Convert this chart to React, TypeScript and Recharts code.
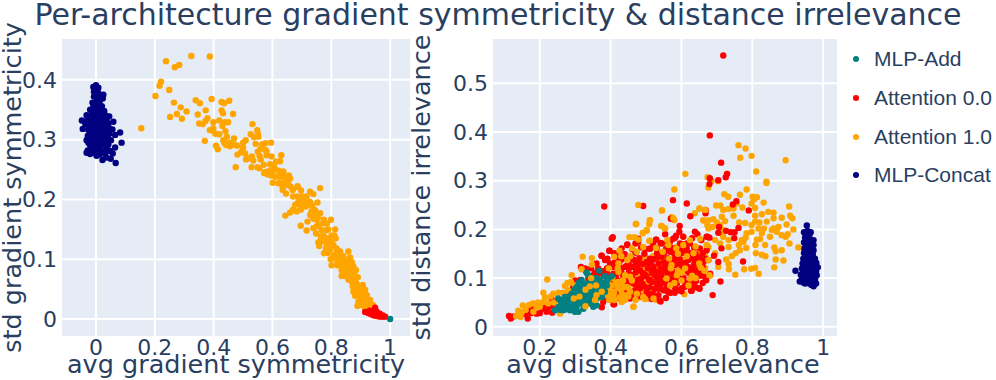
import { ScatterChart, Scatter, XAxis, YAxis, CartesianGrid } from 'recharts';

type Pair = [number, number];

const TEXT = '#2a3f5f';
const FONT = '"DejaVu Sans", Verdana, sans-serif';

const TEAL = '#008080';
const RED = '#ff0000';
const ORANGE = '#ffa500';
const NAVY = '#000080';

const legendItems = [
  { name: 'MLP-Add', color: TEAL },
  { name: 'Attention 0.0', color: RED },
  { name: 'Attention 1.0', color: ORANGE },
  { name: 'MLP-Concat', color: NAVY },
];

const symXTicks = [0, 0.2, 0.4, 0.6, 0.8, 1];
const symYTicks = [0, 0.1, 0.2, 0.3, 0.4];
const irrXTicks = [0.2, 0.4, 0.6, 0.8, 1];
const irrYTicks = [0, 0.1, 0.2, 0.3, 0.4, 0.5];

// left panel: avg / std gradient symmetricity
const symConcat: Pair[] = [
  [0, .391], [-.009, .388], [.008, .387], [-.007, .38], [.008, .378], [.025, .375], [-.007, .372], [.008, .372],
  [.023, .369], [-.009, .358], [.002, .365], [.014, .356], [-.02, .35], [-.003, .35], [.014, .348], [.028, .348],
  [-.032, .341], [-.015, .341], [.002, .341], [.019, .341], [.045, .339], [-.048, .332], [-.029, .333], [-.011, .333],
  [.008, .333], [.025, .332], [.059, .33], [-.045, .318], [-.026, .324], [-.009, .324], [.008, .323], [.025, .323],
  [.042, .327], [-.026, .316], [-.009, .316], [.008, .316], [.025, .315], [.045, .319], [.056, .317], [.082, .312],
  [.065, .308], [.087, .295], [-.02, .308], [-.003, .308], [.014, .307], [.031, .308], [.045, .31], [-.032, .299],
  [-.015, .299], [.002, .299], [.019, .298], [.036, .299], [.051, .299], [-.02, .291], [-.003, .291], [.016, .29],
  [.034, .291], [-.018, .285], [.065, .287], [-.032, .278], [-.02, .276], [.002, .273], [.025, .28], [.048, .281],
  [.031, .276], [.057, .277], [.022, .266], [.05, .268], [.067, .261], [.036, .27],
  [-.004, .383], [.004, .368], [.014, .366], [-.012, .362], [-.001, .358], [.006, .352], [.02, .356], [-.013, .346],
  [-.004, .345], [.012, .344], [.024, .344], [.034, .34], [-.022, .336], [-.003, .336], [.016, .336], [.036, .334],
  [-.018, .328], [0, .328], [.017, .329], [.033, .328], [-.036, .326], [-.018, .32], [0, .32], [.017, .32],
  [.034, .318], [-.018, .312], [.001, .312], [.022, .311], [.04, .312], [-.028, .306], [-.011, .303], [.006, .303],
  [.024, .303], [.04, .304], [-.026, .295], [-.008, .295], [.008, .295], [.026, .295], [.042, .292], [-.012, .284],
  [.005, .284], [.018, .283], [.038, .285], [-.008, .278], [.012, .275], [-.028, .282],
];

const symAttn10: Pair[] = [
  [.154, .319], [.238, .431], [.268, .421], [.283, .425], [.324, .44], [.387, .439], [.221, .397], [.216, .39],
  [.249, .383], [.202, .373], [.265, .362], [.288, .354], [.308, .347], [.275, .343], [.252, .338], [.292, .335],
  [.339, .366], [.353, .361], [.393, .368], [.427, .363], [.436, .361], [.453, .365], [.373, .349], [.346, .342],
  [.427, .349], [.432, .344], [.466, .343], [.379, .336], [.372, .331], [.351, .327], [.363, .326], [.399, .329],
  [.419, .332], [.438, .329], [.449, .329], [.399, .319], [.387, .316], [.397, .315], [.43, .323], [.44, .314],
  [.406, .31], [.419, .309], [.37, .298], [.433, .299], [.469, .302], [.436, .295], [.443, .291], [.456, .289],
  [.469, .292], [.408, .29], [.414, .284], [.532, .326], [.526, .309], [.548, .316], [.55, .311], [.537, .304],
  [.552, .305], [.509, .299], [.543, .293], [.565, .292], [.576, .294], [.595, .295], [.5, .287], [.481, .275],
  [.493, .279], [.507, .277], [.51, .267], [.519, .269], [.53, .272], [.535, .265], [.556, .273], [.576, .283],
  [.58, .274], [.56, .267], [.597, .272], [.63, .274], [.612, .263], [.626, .264], [.592, .259], [.475, .254],
  [.529, .254], [.549, .254], [.556, .252], [.605, .254], [.62, .248], [.637, .247], [.572, .244], [.583, .242],
  [.597, .245], [.597, .24], [.635, .239], [.656, .24], [.654, .232], [.601, .228], [.62, .227], [.652, .224],
  [.635, .22], [.669, .217], [.685, .221], [.586, .244], [.575, .246], [.594, .241], [.626, .246], [.637, .241],
  [.654, .238], [.651, .226], [.626, .227], [.635, .216], [.646, .21], [.685, .222], [.669, .216], [.697, .215],
  [.762, .219], [.728, .213], [.739, .209], [.716, .205], [.699, .202], [.688, .196], [.677, .191], [.694, .191],
  [.709, .196], [.753, .195], [.728, .196], [.669, .183], [.682, .18], [.696, .183], [.66, .178], [.644, .173],
  [.733, .18], [.728, .174], [.745, .182], [.762, .177], [.739, .168], [.719, .163], [.75, .166], [.775, .166],
  [.799, .166], [.756, .157], [.785, .16], [.696, .156], [.739, .152], [.716, .148], [.748, .143], [.767, .149],
  [.785, .149], [.813, .15], [.801, .14], [.773, .14], [.756, .128], [.764, .132], [.759, .122], [.785, .125],
  [.801, .129], [.782, .118], [.796, .117], [.807, .124], [.818, .118], [.83, .113], [.858, .113], [.824, .107],
  [.841, .105], [.864, .103], [.798, .1], [.83, .099], [.853, .098], [.801, .09], [.83, .09], [.843, .088],
  [.875, .088], [.835, .082], [.858, .081], [.884, .082], [.847, .072], [.869, .072], [.858, .066], [.881, .065],
  [.873, .055], [.886, .059], [.907, .057], [.875, .046], [.896, .049], [.915, .049], [.881, .039], [.903, .04],
  [.921, .04], [.892, .029], [.909, .032], [.932, .032], [.889, .022], [.907, .023], [.926, .023], [.943, .023],
  [.915, .018], [.81, .108], [.82, .098], [.84, .095], [.85, .085], [.86, .075], [.87, .062], [.89, .045],
  [.9, .035], [.92, .03], [.79, .135], [.77, .13], [.815, .135],
  [.61, .238], [.645, .232], [.66, .222], [.67, .205], [.684, .205], [.7, .205], [.71, .188], [.72, .19],
  [.735, .19], [.74, .175], [.755, .17], [.75, .155], [.77, .16], [.79, .15], [.765, .138], [.78, .135],
  [.795, .13], [.81, .14], [.775, .11], [.79, .11], [.81, .105], [.82, .11], [.835, .105], [.84, .097],
  [.848, .09], [.82, .09], [.835, .072], [.85, .075], [.865, .082], [.86, .09], [.87, .095], [.878, .078],
  [.875, .065], [.89, .07], [.88, .053], [.892, .04], [.905, .04], [.895, .055], [.9, .025], [.915, .03],
  [.925, .03], [.935, .024], [.91, .04], [.5, .295], [.56, .285], [.58, .28], [.55, .28], [.57, .258],
  [.59, .248], [.61, .25], [.625, .238], [.64, .228], [.66, .235], [.445, .305], [.455, .295], [.48, .29],
];

const symAttn00: Pair[] = [
  [.915, .012], [.925, .01], [.935, .008], [.945, .006], [.955, .005], [.965, .004], [.975, .004], [.983, .004],
  [.93, .014], [.94, .012], [.95, .015], [.949, .019], [.955, .012], [.965, .009], [.975, .006], [.96, .006],
];

const symAdd: Pair[] = [[1, 0]];

// right panel: avg / std distance irrelevance
const irrAttn10Far: Pair[] = [
  [.761, .373], [.781, .366], [.766, .347], [.798, .351], [.894, .342], [.811, .319], [.611, .314], [.728, .314],
  [.674, .307], [.685, .3], [.703, .299], [.84, .298], [.84, .295], [.676, .286], [.58, .282], [.784, .282],
  [.721, .272], [.732, .267], [.765, .271], [.801, .267], [.813, .266], [.805, .262], [.832, .255], [.698, .249],
  [.709, .249], [.904, .247], [.772, .245], [.756, .253], [.798, .253], [.808, .244], [.718, .24], [.733, .242],
  [.747, .243], [.651, .243], [.638, .233], [.545, .239], [.511, .219], [.58, .219], [.572, .225], [.544, .207],
  [.554, .202], [.502, .197], [.491, .193], [.747, .228], [.714, .226], [.69, .221], [.676, .219], [.662, .218],
  [.7, .214], [.723, .217], [.709, .209], [.676, .202], [.688, .205], [.718, .199], [.763, .214], [.78, .213],
  [.808, .228], [.827, .231], [.845, .236], [.86, .234], [.86, .223], [.883, .224], [.907, .228], [.913, .223],
  [.808, .216], [.798, .209], [.82, .214], [.841, .216], [.897, .21], [.916, .2], [.86, .202], [.874, .205],
  [.855, .199], [.833, .202], [.817, .202], [.784, .192], [.798, .195], [.827, .192], [.883, .188], [.9, .19],
  [.85, .185], [.869, .195], [.894, .185], [.781, .183], [.775, .174], [.77, .178], [.762, .168], [.822, .18],
  [.813, .179], [.905, .171], [.809, .168], [.836, .168], [.93, .163], [.862, .163], [.866, .155], [.883, .157],
  [.783, .162], [.81, .151], [.827, .148], [.837, .145], [.742, .145], [.753, .151], [.765, .157], [.866, .138],
  [.888, .136], [.726, .138], [.733, .129], [.734, .118], [.862, .122], [.808, .121], [.797, .119], [.777, .118],
  [.752, .107], [.818, .109], [.681, .105], [.669, .095], [.704, .123], [.657, .12], [.667, .121], [.629, .099],
  [.608, .067], [.624, .085], [.676, .164], [.695, .178], [.709, .171], [.733, .164], [.695, .151], [.667, .147],
  [.652, .151], [.718, .185], [.733, .178], [.714, .192], [.605, .185], [.568, .178], [.558, .171], [.587, .164],
  [.544, .144], [.554, .123], [.601, .137], [.596, .102], [.577, .151], [.507, .058], [.521, .058], [.497, .061],
  [.528, .161], [.509, .176], [.605, .113], [.638, .123],
  [.47, .085], [.475, .1], [.49, .07], [.5, .09], [.51, .07], [.53, .09], [.55, .1], [.5, .115],
  [.52, .145], [.54, .135], [.48, .125], [.51, .108], [.53, .12], [.55, .08], [.48, .06], [.53, .055],
  [.497, .123], [.516, .099], [.544, .113], [.497, .147], [.492, .137], [.53, .14], [.544, .127], [.483, .113],
  [.521, .12], [.469, .109], [.483, .089], [.521, .078],
];

const irrAttn00: Pair[] = [
  [.382, .247], [.492, .248], [.576, .26], [.615, .253], [.57, .222], [.625, .227], [.406, .184], [.403, .181],
  [.595, .207], [.478, .181], [.529, .179], [.544, .171], [.585, .187], [.594, .195], [.638, .195], [.645, .19],
  [.673, .185], [.577, .181], [.624, .171], [.486, .163], [.512, .161], [.397, .156], [.374, .146], [.447, .169],
  [.464, .138], [.434, .139], [.521, .139], [.568, .154], [.601, .157], [.652, .161], [.671, .157], [.624, .151],
  [.643, .137], [.667, .14], [.585, .14], [.544, .144], [.502, .133], [.478, .13], [.445, .125], [.398, .13],
  [.379, .114], [.356, .111], [.412, .127], [.462, .123], [.483, .116], [.521, .123], [.554, .125], [.594, .13],
  [.619, .123], [.648, .116], [.636, .106], [.61, .116], [.577, .113], [.538, .109], [.497, .107], [.459, .106],
  [.431, .111], [.408, .109], [.394, .096], [.422, .094], [.45, .091], [.478, .096], [.509, .096], [.54, .094],
  [.568, .098], [.596, .098], [.624, .092], [.652, .105], [.67, .096], [.65, .079], [.61, .084], [.591, .075],
  [.568, .07], [.541, .052], [.549, .075], [.525, .078], [.497, .082], [.469, .075], [.436, .072], [.412, .061],
  [.443, .061], [.379, .051], [.408, .046], [.629, .074], [.554, .116], [.525, .106], [.483, .079], [.464, .092],
  [.507, .065], [.535, .065], [.516, .111], [.459, .065], [.587, .089], [.582, .127], [.568, .175], [.605, .185],
  [.62, .137], [.361, .096], [.351, .106], [.398, .072], [.54, .085], [.559, .133], [.535, .13],
  [.718, .557], [.68, .393], [.712, .337], [.729, .314], [.725, .307], [.68, .305], [.679, .293], [.704, .301],
  [.755, .258], [.745, .251], [.79, .239], [.668, .24], [.668, .233], [.706, .205], [.726, .197], [.704, .193],
  [.739, .194], [.761, .203], [.75, .194], [.749, .182], [.656, .178], [.679, .183], [.671, .185], [.615, .171],
  [.713, .161], [.692, .146], [.704, .133], [.676, .137], [.662, .133], [.774, .134], [.71, .093], [.688, .065],
  [.651, .078], [.627, .074], [.61, .082], [.641, .094], [.652, .116], [.638, .137], [.634, .116], [.601, .151],
  [.605, .13], [.577, .137], [.577, .109], [.539, .054], [.568, .07], [.539, .082], [.511, .096], [.521, .116],
  [.544, .106], [.492, .061], [.507, .131], [.528, .179], [.541, .172], [.511, .16], [.554, .19], [.582, .183],
  [.596, .171], [.568, .164],
  [.113, .022], [.118, .017], [.158, .026], [.166, .017], [.172, .037], [.186, .041], [.191, .027], [.208, .037],
  [.234, .055], [.238, .042], [.235, .029], [.219, .031], [.262, .055], [.276, .062], [.293, .079], [.316, .123],
  [.328, .12], [.314, .096], [.337, .099], [.38, .113], [.384, .137], [.375, .146], [.396, .156], [.447, .168],
  [.478, .175], [.426, .151], [.441, .123], [.408, .123], [.46, .123], [.425, .133], [.342, .089], [.417, .096],
  [.436, .103], [.464, .089], [.38, .055], [.41, .046], [.427, .068], [.455, .058], [.295, .048], [.323, .075],
  [.426, .058], [.481, .063], [.516, .057], [.53, .061], [.556, .059], [.39, .068], [.421, .071], [.452, .073],
  [.476, .069], [.502, .072], [.519, .068], [.561, .072], [.581, .07], [.6, .073], [.385, .08], [.406, .083],
  [.431, .079], [.446, .082], [.475, .084], [.51, .081], [.536, .078], [.56, .083], [.581, .081], [.601, .079],
  [.626, .083], [.641, .081], [.401, .09], [.411, .088], [.441, .092], [.471, .09], [.49, .088], [.516, .092],
  [.531, .089], [.555, .09], [.575, .092], [.611, .091], [.635, .088], [.66, .09], [.38, .1], [.415, .102],
  [.441, .099], [.461, .101], [.486, .099], [.501, .103], [.531, .1], [.56, .102], [.585, .099], [.606, .101],
  [.631, .102], [.665, .103], [.37, .11], [.391, .109], [.42, .112], [.451, .11], [.471, .112], [.491, .11],
  [.531, .112], [.561, .11], [.59, .109], [.621, .111], [.66, .112], [.681, .109], [.39, .12], [.431, .121],
  [.451, .119], [.475, .121], [.505, .12], [.541, .119], [.571, .121], [.6, .12], [.631, .119], [.66, .122],
  [.41, .131], [.451, .13], [.471, .132], [.491, .129], [.515, .131], [.55, .132], [.575, .13], [.611, .131],
  [.636, .128], [.655, .131], [.391, .14], [.42, .142], [.456, .139], [.481, .141], [.511, .14], [.531, .142],
  [.561, .141], [.595, .139], [.63, .141], [.651, .142], [.41, .151], [.44, .149], [.47, .152], [.495, .15],
  [.531, .151], [.551, .152], [.581, .149], [.611, .151], [.64, .149], [.66, .151], [.431, .161], [.461, .159],
  [.5, .16], [.53, .162], [.556, .16], [.58, .161], [.615, .16], [.636, .162], [.47, .171], [.52, .17],
  [.56, .172], [.6, .17], [.63, .182],
  [.125, .021], [.145, .028], [.175, .028], [.2, .028], [.21, .045], [.225, .04], [.25, .035], [.255, .05],
  [.28, .07], [.3, .095], [.31, .085], [.33, .115], [.345, .12], [.365, .12], [.36, .13], [.39, .12],
  [.345, .075], [.35, .045], [.375, .04], [.395, .06],
];

const irrAttn10Mid: Pair[] = [
  [.478, .25], [.511, .219], [.509, .211], [.471, .211], [.502, .199], [.491, .192], [.453, .184], [.467, .184],
  [.478, .179], [.221, .097], [.21, .07], [.29, .106], [.321, .144], [.347, .141], [.347, .128], [.318, .118],
  [.41, .144], [.425, .156], [.46, .161], [.511, .177], [.492, .164], [.278, .09], [.271, .084], [.288, .092],
  [.238, .068], [.252, .07], [.21, .051], [.224, .048], [.2, .041], [.152, .044], [.139, .033], [.149, .03],
  [.133, .022], [.146, .02], [.182, .031], [.191, .041], [.257, .027], [.33, .082], [.356, .083], [.38, .09],
  [.403, .085], [.384, .065], [.408, .061], [.396, .055], [.465, .041], [.431, .051], [.445, .082], [.422, .113],
  [.455, .103], [.474, .068], [.441, .065], [.492, .061], [.521, .058],
  [.545, .239], [.472, .211], [.543, .207], [.553, .202], [.577, .223], [.651, .243], [.667, .24], [.662, .219],
  [.673, .209], [.474, .154], [.528, .162], [.547, .154], [.56, .178], [.563, .168], [.605, .168],
  [.585, .161], [.652, .181], [.634, .151], [.671, .168], [.676, .137], [.655, .121], [.679, .106], [.624, .099],
  [.601, .111], [.572, .127], [.447, .137], [.422, .13], [.389, .099],
  [.375, .075], [.398, .065], [.422, .092], [.441, .106],
  [.568, .085], [.587, .106], [.464, .041], [.497, .057], [.455, .072], [.431, .065],
  [.436, .082], [.558, .099], [.624, .178], [.405, .1], [.43, .09], [.47, .055],
  [.385, .08], [.395, .088], [.4, .075], [.41, .07], [.415, .09], [.42, .08], [.43, .075], [.435, .095],
  [.44, .055], [.45, .062], [.45, .08], [.46, .095],
  [.57, .12], [.59, .115], [.61, .12], [.63, .105], [.65, .13],
  [.665, .115], [.565, .14], [.59, .15], [.615, .145], [.64, .165],
  [.42, .12], [.395, .12], [.43, .145], [.455, .145],
  [.58, .09], [.6, .095], [.62, .085], [.64, .1], [.41, .055], [.425, .06], [.385, .1], [.37, .06],
  [.355, .065], [.345, .055],
  [.16, .035], [.17, .045], [.18, .048], [.195, .05], [.215, .06], [.23, .062], [.24, .05], [.25, .045],
  [.27, .065], [.265, .07], [.28, .075], [.3, .085],
];

const irrAdd: Pair[] = [
  [.243, .034], [.252, .04], [.252, .058], [.265, .034], [.276, .051], [.271, .041], [.285, .034], [.299, .031],
  [.304, .042], [.29, .055], [.306, .083], [.314, .075], [.318, .055], [.323, .037], [.332, .111], [.337, .106],
  [.328, .065], [.337, .048], [.351, .041], [.361, .044], [.342, .068], [.351, .092], [.346, .079], [.368, .115],
  [.362, .099], [.37, .082], [.361, .058], [.38, .089], [.389, .085], [.403, .104], [.375, .061], [.384, .072],
  [.295, .065], [.304, .061], [.328, .089], [.281, .041], [.262, .044], [.271, .061], [.281, .061], [.312, .048],
  [.323, .061], [.332, .058], [.351, .058], [.342, .096], [.318, .096], [.342, .051], [.299, .072], [.37, .096],
  [.384, .104], [.285, .048], [.257, .035], [.295, .037], [.309, .031], [.315, .085], [.33, .075], [.355, .07],
  [.365, .075],
  [.26, .052], [.27, .05], [.28, .052], [.29, .043], [.3, .05], [.31, .055], [.32, .05], [.33, .048],
  [.335, .065], [.345, .06], [.31, .068], [.32, .07], [.335, .085], [.345, .086], [.355, .08],
  [.36, .09], [.375, .09], [.355, .1], [.39, .095],
  [.395, .1], [.38, .08], [.37, .068], [.35, .05], [.27, .035], [.28, .043], [.275, .056], [.3, .078],
  [.31, .09], [.3, .058], [.29, .068],
];

const irrAttn10Top: Pair[] = [
  [.296, .058], [.329, .076], [.341, .083], [.359, .085], [.329, .042], [.36, .065], [.312, .062], [.356, .055],
  [.345, .1], [.375, .072],
];

const irrConcat: Pair[] = [
  [.954, .208], [.946, .194], [.956, .197], [.965, .194], [.949, .183], [.961, .185], [.973, .178], [.946, .173],
  [.959, .171], [.973, .168], [.946, .161], [.959, .161], [.973, .157], [.946, .151], [.959, .151], [.971, .148],
  [.944, .14], [.956, .14], [.968, .14], [.977, .14], [.942, .13], [.954, .13], [.965, .13], [.977, .126],
  [.985, .122], [.94, .12], [.952, .12], [.963, .12], [.975, .116], [.937, .107], [.949, .109], [.961, .109],
  [.973, .107], [.982, .106], [.922, .115], [.934, .093], [.943, .1], [.954, .099], [.965, .098], [.977, .096],
  [.949, .089], [.961, .089], [.973, .083], [.98, .089],
  [.951, .19], [.961, .19], [.955, .178], [.966, .176], [.952, .166], [.965, .165], [.952, .156], [.966, .155],
  [.951, .146], [.964, .146], [.95, .135], [.961, .135], [.972, .134], [.947, .125], [.958, .125], [.969, .124],
  [.981, .131], [.945, .115], [.957, .114], [.969, .113], [.98, .114], [.943, .113], [.955, .104], [.967, .103],
  [.978, .102], [.948, .095], [.959, .094], [.97, .092], [.944, .091], [.967, .086], [.94, .098],
];

const toPoints = (pairs: Pair[]) => pairs.map(([x, y]) => ({ x, y }));

// plotly-style round marker
const Dot = (props: any) => <circle cx={props.cx} cy={props.cy} r={3.2} fill={props.fill} />;

interface PanelProps {
  left: number;
  width: number;
  axisWidth: number;
  titleOffset: number;
  xTitleShift: number;
  xDomain: [number, number];
  yDomain: [number, number];
  xTicks: number[];
  yTicks: number[];
  xTitle: string;
  yTitle: string;
  series: { data: Pair[]; color: string }[];
}

function Panel({ left, width, axisWidth, titleOffset, xTitleShift, xDomain, yDomain, xTicks, yTicks, xTitle, yTitle, series }: PanelProps) {
  return (
    <div style={{ position: 'absolute', left, top: 0 }}>
      <ScatterChart width={width} height={380} margin={{ top: 38, right: 0, bottom: 0, left: 0 }}>
        <CartesianGrid fill="#E5ECF6" stroke="#ffffff" strokeWidth={2} />
        <XAxis
          type="number"
          dataKey="x"
          domain={xDomain}
          ticks={xTicks}
          allowDataOverflow
          height={43}
          tickLine={false}
          axisLine={false}
          tickMargin={-4}
          tick={{ fill: TEXT, fontSize: 22, fontFamily: FONT }}
          label={{ value: xTitle, position: 'insideBottom', offset: 7, dx: xTitleShift, fill: TEXT, fontSize: 25.5, fontFamily: FONT }}
        />
        <YAxis
          type="number"
          dataKey="y"
          domain={yDomain}
          ticks={yTicks}
          allowDataOverflow
          width={axisWidth}
          tickLine={false}
          axisLine={false}
          tickMargin={-2}
          tick={{ fill: TEXT, fontSize: 22, fontFamily: FONT }}
          label={{ value: yTitle, angle: -90, position: 'insideLeft', offset: titleOffset, fill: TEXT, fontSize: 25.5, fontFamily: FONT, style: { textAnchor: 'middle' } }}
        />
        {series.map((s, i) => (
          <Scatter key={i} data={toPoints(s.data)} fill={s.color} shape={Dot} isAnimationActive={false} />
        ))}
      </ScatterChart>
    </div>
  );
}

export default function App() {
  return (
    <div style={{ position: 'absolute', left: 0, top: 0, width: 996, height: 380, background: '#fff', overflow: 'hidden' }}>
      <div style={{ position: 'absolute', left: 0, top: 0, width: 996, height: 29, lineHeight: '29px', textAlign: 'center', fontFamily: FONT, fontSize: 30, color: TEXT, whiteSpace: 'nowrap' }}>
        Per-architecture gradient symmetricity &amp; distance irrelevance
      </div>
      <Panel
        left={0}
        width={411}
        axisWidth={61}
        titleOffset={12}
        xTitleShift={0}
        xDomain={[-0.119, 1.071]}
        yDomain={[-0.03, 0.47]}
        xTicks={symXTicks}
        yTicks={symYTicks}
        xTitle="avg gradient symmetricity"
        yTitle="std gradient symmetricity"
        series={[
          { data: symConcat, color: NAVY },
          { data: symAttn10, color: ORANGE },
          { data: symAttn00, color: RED },
          { data: symAdd, color: TEAL },
        ]}
      />
      <Panel
        left={405}
        width={433}
        axisWidth={87}
        titleOffset={16}
        xTitleShift={-2}
        xDomain={[0.065, 1.042]}
        yDomain={[-0.021, 0.593]}
        xTicks={irrXTicks}
        yTicks={irrYTicks}
        xTitle="avg distance irrelevance"
        yTitle="std distance irrelevance"
        series={[
          { data: irrConcat, color: NAVY },
          { data: irrAttn10Far, color: ORANGE },
          { data: irrAttn00, color: RED },
          { data: irrAttn10Mid, color: ORANGE },
          { data: irrAdd, color: TEAL },
          { data: irrAttn10Top, color: ORANGE },
        ]}
      />
      {legendItems.map((item, i) => (
        <div key={item.name} style={{ position: 'absolute', left: 853, top: 46 + i * 38.8, height: 26, display: 'flex', alignItems: 'center', fontFamily: '"Liberation Sans", Arial, sans-serif', fontSize: 21, color: TEXT, whiteSpace: 'nowrap' }}>
          <span style={{ display: 'inline-block', width: 6, height: 6, borderRadius: 3, background: item.color, marginRight: 15 }} />
          {item.name}
        </div>
      ))}
    </div>
  );
}
